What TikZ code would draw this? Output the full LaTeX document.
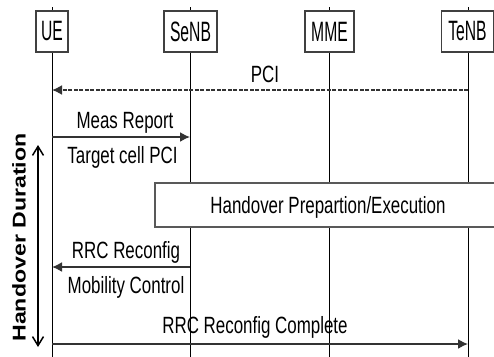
\documentclass[tikz,border=0pt]{standalone}
\usepackage{fontspec}
\setmainfont{Liberation Sans}
\newfontfamily\labfont[FakeStretch=0.72]{Liberation Sans}
\newfontfamily\hdrfont[FakeStretch=0.56]{Liberation Sans}
\newfontfamily\durfont[FakeStretch=1.25]{Liberation Sans}
\usetikzlibrary{arrows.meta}
\begin{document}
\begin{tikzpicture}[x=1pt,y=-1pt,
  pbox/.style={draw=black!75, line width=1.5pt, fill=white, inner sep=0pt,
    minimum height=41pt, font=\hdrfont\fontsize{28}{30}\selectfont},
  life/.style={draw=black, line width=1pt},
  msg/.style={draw=black!80, line width=1.6pt, -{Latex[length=10pt,width=10pt]}},
  dmsg/.style={msg, dash pattern=on 4pt off 1.5pt},
  lbl/.style={anchor=base, inner sep=0pt, font=\labfont\fontsize{23.5}{26}\selectfont},
  hobox/.style={draw=black!65, line width=2pt, fill=white, inner sep=0pt,
    minimum width=346pt, minimum height=44pt},
  durarrow/.style={draw=black, line width=1.5pt, {Straight Barb[length=9pt,width=11pt]}-{Straight Barb[length=9pt,width=11pt]}},
  durlbl/.style={inner sep=0pt, rotate=90, font=\durfont\bfseries\fontsize{18.5}{20}\selectfont}
]
\useasboundingbox (0,0) rectangle (494,356);
\clip (0,0) rectangle (494,356);
\fill[white] (0,0) rectangle (494,356);

% lifeline ends
\coordinate (ueT) at (52,7);   \coordinate (ueB) at (52,357);
\coordinate (seT) at (190,7);  \coordinate (seB) at (190,357);
\coordinate (mmT) at (329,7);  \coordinate (mmB) at (329,357);
\coordinate (teT) at (468,7);  \coordinate (teB) at (468,357);
\draw[life] (ueT) -- (ueB);
\draw[life] (seT) -- (seB);
\draw[life] (mmT) -- (mmB);
\draw[life] (teT) -- (teB);

% participants
\node[pbox, minimum width=32pt] (ue) at (52,31.5) {UE};
\node[pbox, minimum width=53pt] (senb) at (190.5,31.5) {SeNB};
\node[pbox, minimum width=49pt] (mme) at (329.5,31.5) {MME};
\node[pbox, minimum width=52pt] (tenb) at (467.5,31.5) {TeNB};

% handover box
\node[hobox] (ho) at (328,205) {};
\node[lbl] (holbl) at (328,213) {Handover Prepartion/Execution};

% messages
\coordinate (pciA) at (468,90);  \coordinate (pciB) at (52,90);
\draw[dmsg] (pciA) -- (pciB);
\node[lbl] (pcil) at (265,82) {PCI};

\coordinate (mrA) at (52,137);  \coordinate (mrB) at (190,137);
\draw[msg] (mrA) -- (mrB);
\node[lbl] (mrl) at (125,128) {Meas Report};
\node[lbl] (mrl2) at (122.5,163) {Target cell PCI};

\coordinate (rrA) at (190,267);  \coordinate (rrB) at (52,267);
\draw[msg] (rrA) -- (rrB);
\node[lbl] (rrl) at (126,258) {RRC Reconfig};
\node[lbl] (rrl2) at (126,293) {Mobility Control};

\coordinate (rcA) at (52,344);  \coordinate (rcB) at (468,344);
\draw[msg] (rcA) -- (rcB);
\node[lbl] (rcl) at (255,333) {RRC Reconfig Complete};

% duration
\coordinate (duT) at (38,145);  \coordinate (duB) at (38,347);
\draw[durarrow] (duT) -- (duB);
\node[durlbl] (dul) at (19,237.5) {Handover Duration};
\end{tikzpicture}
\end{document}
